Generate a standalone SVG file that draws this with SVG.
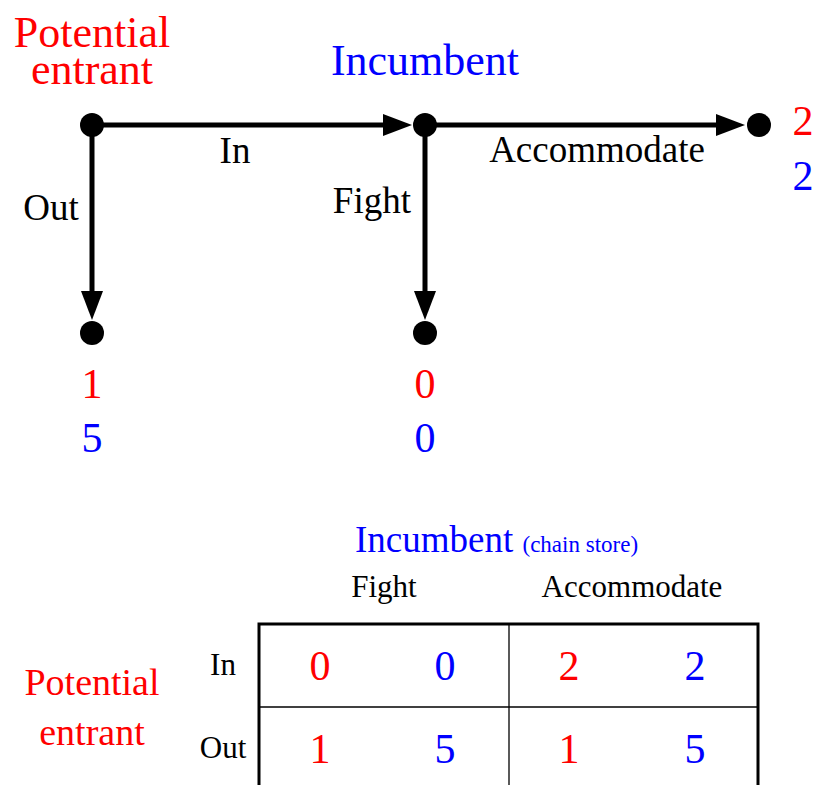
<svg xmlns="http://www.w3.org/2000/svg" width="813" height="785" viewBox="0 0 813 785">
<defs>
<marker id="ah" markerUnits="userSpaceOnUse" markerWidth="30" markerHeight="24" refX="2" refY="11" orient="auto">
<path d="M0,0 L29,11 L0,22 z" fill="#000"/>
</marker>
<style>
text{font-family:"Liberation Serif","Times New Roman",serif;}
.red{fill:#ff0000;}
.blue{fill:#0000ff;}
.blk{fill:#000;}
.mid{text-anchor:middle;}
.edge{stroke:#000;stroke-width:5;fill:none;}
.node{fill:#000;}
.lbl{font-size:37px;}
.pay{font-size:42px;}
.big{font-size:44px;}
.tb{font-size:31px;}
.pe{font-size:38px;}
</style>
</defs>
<rect width="813" height="785" fill="#fff"/>
<g id="connectors">
<line class="edge" x1="92" y1="125" x2="385" y2="125" marker-end="url(#ah)"/>
<line class="edge" x1="425" y1="125" x2="718" y2="125" marker-end="url(#ah)"/>
<line class="edge" x1="92" y1="125" x2="92" y2="293" marker-end="url(#ah)"/>
<line class="edge" x1="425" y1="125" x2="425" y2="293" marker-end="url(#ah)"/>
<text class="lbl blk mid" x="235" y="163">In</text>
<text class="lbl blk mid" x="51" y="220">Out</text>
<text class="lbl blk" x="411" y="213" text-anchor="end">Fight</text>
<text class="lbl blk mid" x="597" y="162">Accommodate</text>
</g>
<g id="n-entrant">
<circle class="node" cx="92" cy="125" r="12"/>
<text class="big red mid"><tspan x="92" y="47">Potential</tspan><tspan x="92" y="84">entrant</tspan></text>
</g>
<g id="n-incumbent">
<circle class="node" cx="425" cy="125" r="12"/>
<text class="big blue mid" x="425" y="75">Incumbent</text>
</g>
<g id="n-accommodate">
<circle class="node" cx="759" cy="125" r="12"/>
<text class="pay red mid" x="803" y="135">2</text>
<text class="pay blue mid" x="803" y="190">2</text>
</g>
<g id="n-out">
<circle class="node" cx="92" cy="333" r="12"/>
<text class="pay red mid" x="92" y="398">1</text>
<text class="pay blue mid" x="92" y="452">5</text>
</g>
<g id="n-fight">
<circle class="node" cx="425" cy="333" r="12"/>
<text class="pay red mid" x="425" y="398">0</text>
<text class="pay blue mid" x="425" y="452">0</text>
</g>
<g id="matrix">
<text class="blue" x="355" y="552" style="font-size:37px">Incumbent <tspan style="font-size:23px">(chain store)</tspan></text>
<text class="tb blk mid" x="384" y="597">Fight</text>
<text class="tb blk mid" x="632" y="597">Accommodate</text>
<text class="pe red mid"><tspan x="92" y="695">Potential</tspan><tspan x="92" y="745">entrant</tspan></text>
<text class="tb blk mid" x="223" y="675">In</text>
<text class="tb blk mid" x="223" y="758">Out</text>
<path d="M259,790 V624 H758 V790" fill="none" stroke="#000" stroke-width="3"/>
<line x1="509" y1="624" x2="509" y2="790" stroke="#000" stroke-width="1.3"/>
<line x1="259" y1="707" x2="758" y2="707" stroke="#000" stroke-width="1.3"/>
<text class="pay red mid" x="320" y="680">0</text>
<text class="pay blue mid" x="445" y="680">0</text>
<text class="pay red mid" x="569" y="680">2</text>
<text class="pay blue mid" x="695" y="680">2</text>
<text class="pay red mid" x="320" y="763">1</text>
<text class="pay blue mid" x="445" y="763">5</text>
<text class="pay red mid" x="569" y="763">1</text>
<text class="pay blue mid" x="695" y="763">5</text>
</g>
</svg>
